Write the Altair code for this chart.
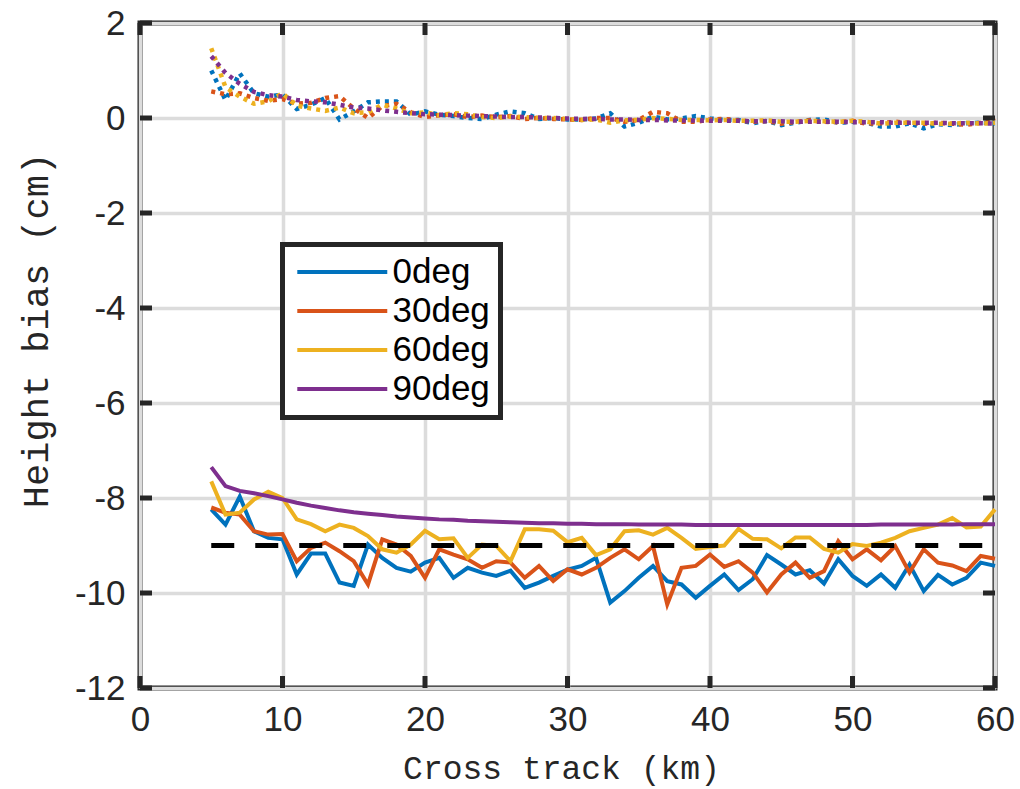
import altair as alt
import pandas as pd

X = list(range(5, 61))
SERIES = ["0deg", "30deg", "60deg", "90deg"]
COLORS = ["#0072BD", "#D95319", "#EDB120", "#7E2F8E"]

SOLID_0 = [-8.24, -8.56, -7.97, -8.70, -8.84, -8.87, -9.61, -9.17, -9.17, -9.78,
           -9.85, -8.98, -9.26, -9.47, -9.55, -9.36, -9.26, -9.68, -9.47, -9.57,
           -9.64, -9.53, -9.89, -9.78, -9.64, -9.51, -9.43, -9.26, -10.20, -9.96,
           -9.68, -9.43, -9.75, -9.82, -10.10, -9.85, -9.61, -9.94, -9.71, -9.20,
           -9.40, -9.61, -9.52, -9.80, -9.29, -9.64, -9.85, -9.61, -9.89, -9.40,
           -9.96, -9.62, -9.82, -9.68, -9.36, -9.43]
SOLID_30 = [-8.20, -8.31, -8.35, -8.70, -8.77, -8.76, -9.33, -9.05, -8.94, -9.12,
            -9.33, -9.82, -8.87, -8.98, -9.22, -9.68, -9.08, -9.19, -9.29, -9.47,
            -9.33, -9.36, -9.68, -9.43, -9.75, -9.50, -9.61, -9.47, -9.26, -9.08,
            -9.29, -9.01, -10.24, -9.47, -9.43, -9.19, -9.45, -9.33, -9.57, -9.99,
            -9.61, -9.36, -9.68, -9.54, -8.91, -9.29, -9.08, -9.31, -9.01, -9.57,
            -9.08, -9.36, -9.42, -9.54, -9.22, -9.28]
SOLID_60 = [-7.65, -8.35, -8.31, -8.03, -7.87, -8.00, -8.45, -8.55, -8.70, -8.56,
            -8.63, -8.80, -9.08, -9.15, -8.98, -8.69, -8.87, -8.85, -9.26, -8.98,
            -9.01, -9.33, -8.66, -8.66, -8.69, -8.93, -8.84, -9.20, -9.08, -8.70,
            -8.68, -8.77, -8.63, -8.84, -9.07, -9.03, -9.00, -8.65, -8.86, -8.87,
            -9.06, -8.83, -8.83, -9.07, -9.15, -8.97, -9.01, -8.94, -8.84, -8.70,
            -8.63, -8.56, -8.42, -8.62, -8.60, -8.24]
SOLID_90 = [-7.35, -7.75, -7.85, -7.90, -7.96, -8.03, -8.10, -8.16, -8.21, -8.26,
            -8.30, -8.33, -8.36, -8.39, -8.41, -8.43, -8.45, -8.46, -8.48, -8.49,
            -8.50, -8.51, -8.52, -8.53, -8.53, -8.54, -8.54, -8.55, -8.55, -8.55,
            -8.56, -8.56, -8.56, -8.56, -8.57, -8.57, -8.57, -8.57, -8.57, -8.57,
            -8.57, -8.57, -8.57, -8.57, -8.57, -8.57, -8.57, -8.56, -8.56, -8.56,
            -8.56, -8.56, -8.56, -8.55, -8.55, -8.55]

DOT_0 = [1.00, 0.38, 0.94, 0.52, 0.45, 0.49, 0.19, 0.28, 0.42, -0.03,
         0.14, 0.33, 0.35, 0.35, 0.07, 0.14, 0.07, 0.04, 0.00, -0.02,
         0.07, 0.14, 0.10, -0.02, 0.00, -0.03, -0.03, -0.01, 0.10, -0.18,
         -0.10, 0.03, -0.03, -0.01, 0.04, -0.01, -0.04, -0.04, -0.11, -0.06,
         -0.15, -0.10, -0.04, -0.03, -0.10, -0.08, -0.10, -0.18, -0.18, -0.11,
         -0.22, -0.13, -0.15, -0.11, -0.10, -0.11]
DOT_30 = [0.56, 0.50, 0.52, 0.42, 0.36, 0.40, 0.30, 0.32, 0.42, 0.46,
          0.20, 0.00, 0.25, 0.30, 0.12, 0.02, 0.06, 0.08, 0.02, 0.05,
          0.02, 0.04, -0.02, 0.00, -0.02, -0.03, -0.04, 0.00, 0.00, -0.08,
          -0.04, 0.13, 0.10, -0.08, -0.08, -0.03, -0.02, -0.05, -0.08, -0.06,
          -0.12, -0.08, -0.05, -0.08, -0.09, -0.06, -0.12, -0.11, -0.08, -0.10,
          -0.12, -0.10, -0.12, -0.14, -0.10, 0.00]
DOT_60 = [1.47, 0.65, 0.45, 0.30, 0.35, 0.52, 0.26, 0.20, 0.15, 0.22,
          0.10, 0.12, 0.28, 0.20, 0.10, 0.12, 0.06, 0.10, 0.08, 0.02,
          0.00, 0.03, 0.02, 0.00, 0.00, -0.02, -0.04, -0.03, -0.10, -0.05,
          -0.04, 0.00, -0.02, -0.04, -0.04, -0.05, -0.04, -0.06, -0.06, -0.05,
          -0.08, -0.08, -0.06, -0.07, -0.08, -0.06, -0.08, -0.12, -0.10, -0.10,
          -0.10, -0.12, -0.12, -0.10, -0.12, -0.10]
DOT_90 = [1.30, 0.95, 0.72, 0.55, 0.48, 0.45, 0.38, 0.35, 0.33, 0.28,
          0.22, 0.20, 0.16, 0.13, 0.10, 0.08, 0.07, 0.06, 0.05, 0.04,
          0.03, 0.02, 0.02, 0.01, 0.00, -0.01, -0.02, -0.02, -0.03, -0.03,
          -0.04, -0.04, -0.05, -0.05, -0.05, -0.06, -0.06, -0.06, -0.07, -0.07,
          -0.07, -0.08, -0.08, -0.08, -0.08, -0.09, -0.09, -0.09, -0.10, -0.10,
          -0.10, -0.10, -0.11, -0.11, -0.11, -0.12]

REF_X = [5, 60]
REF_Y = [-9, -9]

XTICKS = [0, 10, 20, 30, 40, 50, 60]
YTICKS = [-12, -10, -8, -6, -4, -2, 0, 2]

W, H = 855, 665
FRAME = "#262626"

solid_rows, dot_rows = [], []
for name, s, d in zip(SERIES, [SOLID_0, SOLID_30, SOLID_60, SOLID_90],
                      [DOT_0, DOT_30, DOT_60, DOT_90]):
    for i, xv in enumerate(X):
        solid_rows.append({"x": xv, "y": s[i], "series": name})
        dot_rows.append({"x": xv, "y": d[i], "series_top": name})
solid_df = pd.DataFrame(solid_rows)
dot_df = pd.DataFrame(dot_rows)
ref_df = pd.DataFrame({"x": REF_X, "y": REF_Y})
xt_df = pd.DataFrame({"t": XTICKS})
yt_df = pd.DataFrame({"t": YTICKS})

xscale = alt.Scale(domain=[0, 60], nice=False)
yscale = alt.Scale(domain=[-12, 2], nice=False)

xaxis = alt.Axis(values=XTICKS, title="Cross track (km)", grid=True, ticks=False,
                 domain=False, labelPadding=14, labelFlush=False,
                 titleX=421, titleY=90,
                 titleBaseline="alphabetic", titleAlign="center",
                 titleFont="Liberation Mono", titleFontSize=33,
                 titleFontWeight="normal", titleColor=FRAME)
yaxis = alt.Axis(values=YTICKS, title="Height bias (cm)", grid=True, ticks=False,
                 domain=False, labelPadding=15, labelFlush=False,
                 labelExpr="toString(datum.value)",
                 titleX=-85, titleY=307, titleBaseline="bottom", titleAlign="center",
                 titleAngle=270, titleFont="Liberation Mono", titleFontSize=37,
                 titleFontWeight="normal", titleColor=FRAME)

solid = alt.Chart(solid_df).mark_line(strokeWidth=4).encode(
    x=alt.X("x:Q", scale=xscale, axis=xaxis),
    y=alt.Y("y:Q", scale=yscale, axis=yaxis),
    color=alt.Color("series:N", scale=alt.Scale(domain=SERIES, range=COLORS),
                    legend=alt.Legend(title=None)),
    detail="series:N",
)

dotted = alt.Chart(dot_df).mark_line(strokeWidth=4.5, strokeDash=[4, 5]).encode(
    x=alt.X("x:Q", scale=xscale),
    y=alt.Y("y:Q", scale=yscale),
    color=alt.Color("series_top:N", scale=alt.Scale(domain=SERIES, range=COLORS),
                    legend=None),
)

ref = alt.Chart(ref_df).mark_line(color="black", strokeWidth=5,
                                  strokeDash=[23, 21]).encode(
    x=alt.X("x:Q", scale=xscale),
    y=alt.Y("y:Q", scale=yscale),
)

tick_style = dict(color=FRAME, strokeWidth=5)
t_bottom = alt.Chart(xt_df).mark_rule(**tick_style).encode(
    x=alt.X("t:Q", scale=xscale), y=alt.value(H), y2=alt.value(H - 12))
t_top = alt.Chart(xt_df).mark_rule(**tick_style).encode(
    x=alt.X("t:Q", scale=xscale), y=alt.value(0), y2=alt.value(12))
t_left = alt.Chart(yt_df).mark_rule(**tick_style).encode(
    y=alt.Y("t:Q", scale=yscale), x=alt.value(0), x2=alt.value(12))
t_right = alt.Chart(yt_df).mark_rule(**tick_style).encode(
    y=alt.Y("t:Q", scale=yscale), x=alt.value(W), x2=alt.value(W - 12))

chart = alt.layer(solid, dotted, ref, t_bottom, t_top, t_left, t_right).resolve_scale(
    color="independent"
).properties(
    width=W, height=H,
    autosize=alt.AutoSizeParams(type="none"),
    padding={"left": 140, "top": 23, "right": 25, "bottom": 101},
    background="white",
).configure_view(
    stroke=FRAME, strokeWidth=5
).configure_axis(
    gridColor="#dcdcdc", gridWidth=3.5, gridOpacity=1,
    labelFont="Liberation Sans", labelFontSize=35, labelColor=FRAME,
).configure_legend(
    orient="none", legendX=142.5, legendY=221.5,
    strokeColor=FRAME, strokeWidth=5, fillColor="white", padding=10,
    symbolType="M-1.13,0L6.87,0", symbolSize=506, symbolStrokeWidth=4,
    labelFont="Liberation Sans", labelFontSize=35, labelColor="black",
    labelOffset=65, rowPadding=3, cornerRadius=0,
)

chart.save("out.html", embed_options={"renderer": "svg", "actions": False})
